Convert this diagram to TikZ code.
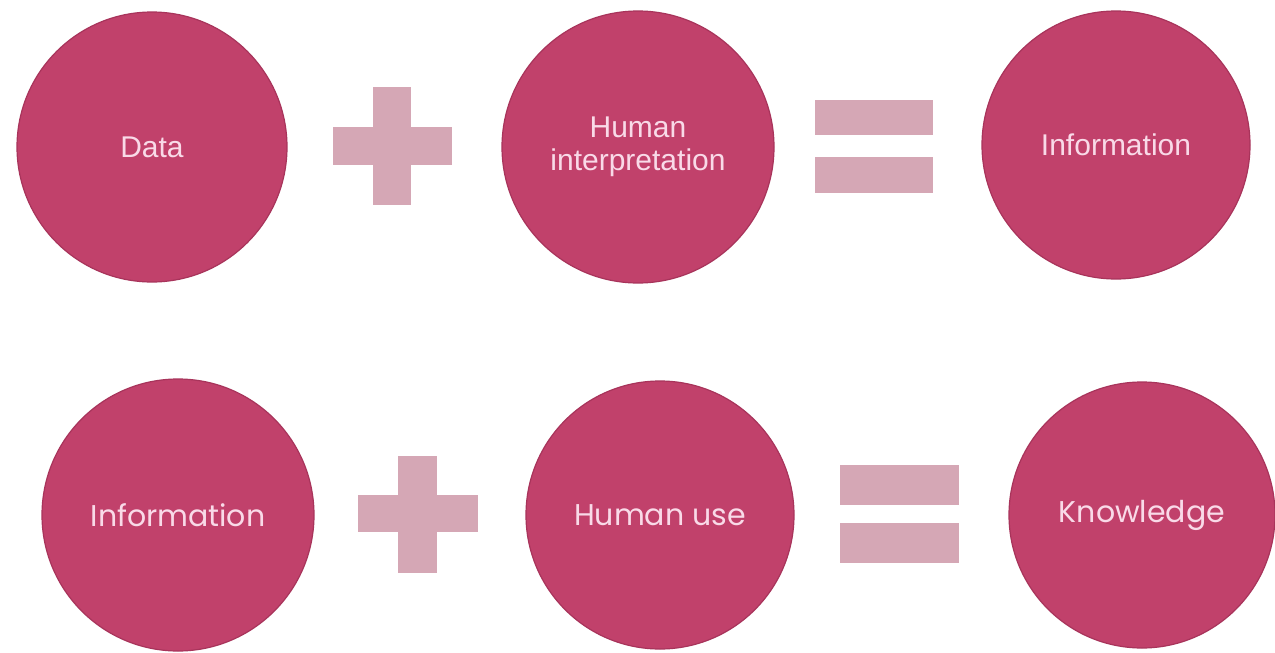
\documentclass[tikz,border=0pt]{standalone}
\usepackage{fontspec}
\setmainfont{Liberation Sans}
\newfontfamily\roundfont{Poppins}
\definecolor{disc}{HTML}{C1416B}
\definecolor{discedge}{HTML}{A8345B}
\definecolor{halo}{HTML}{F6DCE6}
\definecolor{sym}{HTML}{D5A7B5}
\definecolor{txt}{HTML}{F9DAE8}
\begin{document}
\begin{tikzpicture}[x=1pt,y=-1pt,
  bubble/.style={circle,fill=disc,draw=discedge,line width=1.2pt,inner sep=0pt,
    text=txt,align=center,font=\fontsize{30}{34}\selectfont},
  bubbleb/.style={bubble,font=\roundfont\fontsize{30}{34}\selectfont},
  symb/.style={fill=sym}]
\useasboundingbox[fill=white] (0,0) rectangle (1275,653);
% top row
\node[bubble,minimum size=270pt] (data) at (152,147) {Data};
\node[bubble,minimum size=272pt] (hint) at (638,147) {Human\\[-1pt]interpretation};
\node[bubble,minimum size=268pt] (info1) at (1116,145) {Information};
% plus top
\fill[symb] (333,127) rectangle (452,165);
\fill[symb] (373,87) rectangle (411,205);
% equals top
\fill[symb] (815,100) rectangle (933,135);
\fill[symb] (815,157) rectangle (933,193);
% bottom row
\node[bubbleb,minimum size=272pt] (info2) at (178,515) {Information};
\node[bubbleb,minimum size=268pt] (huse) at (660,515) {Human use};
\node[bubbleb,minimum size=266pt] (know) at (1142,515) {Knowledge};
% plus bottom
\fill[symb] (358,495) rectangle (478,532);
\fill[symb] (398,456) rectangle (437,573);
% equals bottom
\fill[symb] (840,465) rectangle (959,505);
\fill[symb] (840,523) rectangle (959,563);
\end{tikzpicture}
\end{document}
